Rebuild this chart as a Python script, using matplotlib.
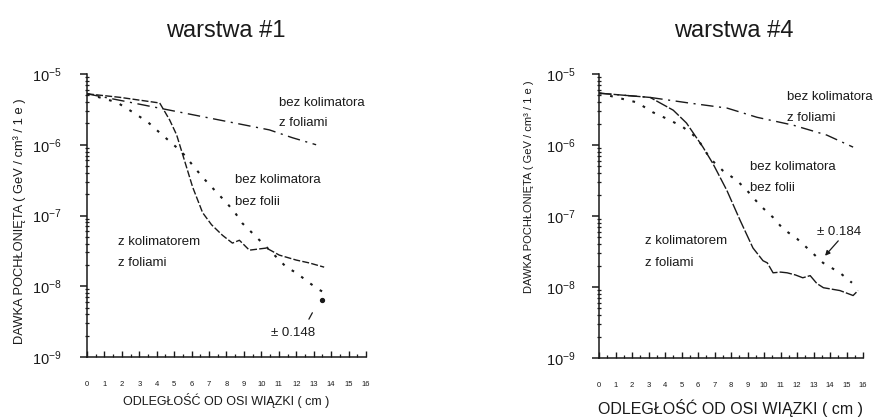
import numpy as np
import matplotlib
matplotlib.use("Agg")
import matplotlib.pyplot as plt
from matplotlib.ticker import FixedLocator, FuncFormatter, MultipleLocator, NullFormatter

plt.rcParams["font.family"] = ["Liberation Sans", "DejaVu Sans"]
plt.rcParams["mathtext.fontset"] = "custom"
plt.rcParams["mathtext.rm"] = "Liberation Sans"
plt.rcParams["mathtext.it"] = "Liberation Sans:italic"
plt.rcParams["mathtext.bf"] = "Liberation Sans:bold"

INK = "#1a1a1a"

# ---- warstwa #1 : distance (cm) and log10 of absorbed dose ----
w1_kol_fol_x = [0, 1.89, 4.17, 4.74, 5.14, 6.06, 6.63, 7.14, 7.77, 8.34, 8.74, 9.31,
                10.29, 11.03, 12.0, 12.74, 13.6]
w1_kol_fol_log = [-5.28, -5.33, -5.41, -5.65, -5.86, -6.60, -6.96, -7.13, -7.28, -7.39,
                  -7.35, -7.49, -7.46, -7.56, -7.63, -7.67, -7.73]

w1_bez_bez_x = [0, 1.71, 2.63, 3.49, 4.17, 5.43, 6.63, 7.31, 8.0, 8.46, 8.91, 9.49,
                10.63, 11.43, 12.0, 12.74, 13.31, 13.86]
w1_bez_bez_log = [-5.28, -5.40, -5.54, -5.68, -5.83, -6.10, -6.46, -6.64, -6.82, -6.95,
                  -7.11, -7.25, -7.53, -7.73, -7.81, -7.95, -8.05, -8.12]
w1_end_x = 13.5
w1_end_log = -8.19

w1_bez_fol_x = [0, 10.46, 11.77, 13.14]
w1_bez_fol_log = [-5.28, -5.79, -5.90, -6.00]

# ---- warstwa #4 ----
w4_kol_fol_x = [0, 3.1, 4.5, 5.3, 6.3, 6.9, 7.75, 8.55, 9.33, 9.94, 10.2, 10.55, 11.0,
                11.4, 11.9, 12.35, 12.8, 13.2, 13.6, 14.6, 15.4, 15.7]
w4_kol_fol_log = [-5.27, -5.33, -5.51, -5.69, -6.03, -6.26, -6.64, -7.06, -7.45, -7.63,
                  -7.66, -7.80, -7.79, -7.80, -7.83, -7.87, -7.84, -7.95, -8.01, -8.05,
                  -8.12, -8.05]

w4_bez_bez_x = [0, 2.3, 3.27, 4.3, 5.1, 5.94, 6.73, 7.5, 8.36, 8.97, 9.76, 10.55, 11.15,
                12.0, 12.8, 13.58, 14.6, 15.33]
w4_bez_bez_log = [-5.27, -5.40, -5.54, -5.65, -5.75, -5.90, -6.19, -6.36, -6.50, -6.64,
                  -6.85, -7.02, -7.18, -7.32, -7.49, -7.66, -7.80, -7.94]

w4_bez_fol_x = [0, 3.1, 5.5, 7.76, 9.58, 11.76, 13.8, 15.4]
w4_bez_fol_log = [-5.27, -5.33, -5.41, -5.48, -5.61, -5.72, -5.86, -6.03]

x_ticks = list(range(0, 17))
y_decades = [-9, -8, -7, -6, -5]
titles = ["warstwa #1", "warstwa #4"]
ylabel = "DAWKA POCHŁONIĘTA ( GeV / cm³ / 1 e )"
xlabel = "ODLEGŁOŚĆ OD OSI WIĄZKI ( cm )"

DASH = (0, (5, 1.6))
DOTS = (0, (1.3, 4.2))
DASHDOT = (0, (9, 4, 1.5, 4))

fig = plt.figure(figsize=(8.86, 4.2), dpi=100)
ax1 = fig.add_axes([87 / 886, 1 - 357 / 420, 279 / 886, 283 / 420])
ax2 = fig.add_axes([599 / 886, 1 - 358 / 420, 264 / 886, 284 / 420])

major_y = [10.0 ** d for d in y_decades]
minor_y = [m * 10.0 ** d for d in y_decades[:-1] for m in range(2, 10)]


def style_axes(ax, ypad):
    ax.set_yscale("log")
    ax.set_ylim(1e-9, 1e-5)
    ax.set_xlim(0, 16)
    for s in ("top", "right"):
        ax.spines[s].set_visible(False)
    for s in ("left", "bottom"):
        ax.spines[s].set_color(INK)
        ax.spines[s].set_linewidth(1.1)
    ax.yaxis.set_major_locator(FixedLocator(major_y))
    ax.yaxis.set_minor_locator(FixedLocator(minor_y))
    ax.yaxis.set_minor_formatter(NullFormatter())
    ax.yaxis.set_major_formatter(
        FuncFormatter(lambda v, p: r"$\mathregular{10^{%d}}$" % int(round(np.log10(v)))))
    ax.tick_params(axis="y", which="major", direction="out", length=5, width=1.1,
                   color=INK, labelsize=10.5, pad=ypad, labelcolor=INK)
    ax.tick_params(axis="y", which="minor", direction="inout", length=3, width=0.9,
                   color=INK)
    ax.set_xticks(x_ticks)
    ax.set_xticklabels([str(t) for t in x_ticks])
    ax.xaxis.set_minor_locator(MultipleLocator(0.5))
    ax.tick_params(axis="x", which="major", direction="in", length=4, width=1.0,
                   color=INK, labelsize=5.5, pad=17, labelcolor=INK)
    ax.tick_params(axis="x", which="minor", direction="in", length=2.5, width=0.9,
                   color=INK)
    ax.set_facecolor("none")


style_axes(ax1, 13)
style_axes(ax2, 12)

lw = 1.0
# warstwa #1 curves
ax1.plot(w1_kol_fol_x, 10.0 ** np.array(w1_kol_fol_log), color=INK, lw=lw, ls=DASH)
ax1.plot(w1_bez_bez_x, 10.0 ** np.array(w1_bez_bez_log), color=INK, lw=1.5, ls=DOTS)
ax1.plot(w1_bez_fol_x, 10.0 ** np.array(w1_bez_fol_log), color=INK, lw=lw, ls=DASHDOT)
ax1.plot([w1_end_x], [10.0 ** w1_end_log], "o", color=INK, ms=2.8)

# warstwa #4 curves
ax2.plot(w4_kol_fol_x, 10.0 ** np.array(w4_kol_fol_log), color=INK, lw=lw, ls=(0, (9, 1.5)))
ax2.plot(w4_bez_bez_x, 10.0 ** np.array(w4_bez_bez_log), color=INK, lw=1.5, ls=DOTS)
ax2.plot(w4_bez_fol_x, 10.0 ** np.array(w4_bez_fol_log), color=INK, lw=lw, ls=DASHDOT)

lab = dict(fontsize=9.5, color=INK, va="center", ha="left", clip_on=False)


def put(ax, x, lg, s):
    ax.text(x, 10.0 ** lg, s, **lab)


put(ax1, 11.03, -5.41, "bez kolimatora")
put(ax1, 11.03, -5.69, "z foliami")
put(ax1, 8.46, -6.50, "bez kolimatora")
put(ax1, 8.46, -6.81, "bez folii")
put(ax1, 1.77, -7.37, "z kolimatorem")
put(ax1, 1.77, -7.67, "z foliami")
put(ax1, 10.57, -8.66, "± 0.148")
ax1.annotate("", xy=(13.0, 10.0 ** -8.34), xytext=(12.65, 10.0 ** -8.50),
             arrowprops=dict(arrowstyle="-", color=INK, lw=0.9))

put(ax2, 11.39, -5.33, "bez kolimatora")
put(ax2, 11.39, -5.62, "z foliami")
put(ax2, 9.15, -6.31, "bez kolimatora")
put(ax2, 9.15, -6.60, "bez folii")
put(ax2, 2.79, -7.35, "z kolimatorem")
put(ax2, 2.79, -7.66, "z foliami")
put(ax2, 13.2, -7.23, "± 0.184")
ax2.annotate("", xy=(13.7, 10.0 ** -7.56), xytext=(14.5, 10.0 ** -7.35),
             arrowprops=dict(arrowstyle="-|>", color=INK, lw=0.9, mutation_scale=7,
                             shrinkA=0, shrinkB=0))

# titles
fig.text(226 / 886, 1 - 37 / 420, titles[0], fontsize=17, color=INK,
         ha="center", va="baseline")
fig.text(734 / 886, 1 - 37 / 420, titles[1], fontsize=17, color=INK,
         ha="center", va="baseline")

# axis titles
fig.text(20 / 886, 1 - 221 / 420, ylabel, rotation=90, fontsize=9.3, color=INK,
         ha="center", va="center")
fig.text(529 / 886, 1 - 187 / 420, ylabel, rotation=90, fontsize=8, color=INK,
         ha="center", va="center")
fig.text(226 / 886, 1 - 401 / 420, xlabel, fontsize=9, color=INK,
         ha="center", va="center")
fig.text(730 / 886, 1 - 408 / 420, xlabel, fontsize=11.5, color=INK,
         ha="center", va="center")

fig.savefig("out.png", dpi=100, facecolor="white")
